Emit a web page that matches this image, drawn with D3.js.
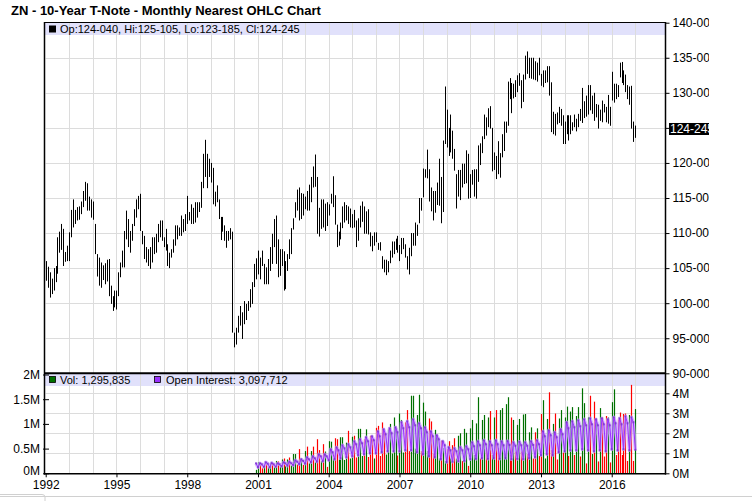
<!DOCTYPE html>
<html>
<head>
<meta charset="utf-8">
<script src="https://cdn.jsdelivr.net/npm/d3@7"></script>
<style>
  body { margin: 0; background: #fff; }
  text { font-family: "Liberation Sans", Arial, sans-serif; }
</style>
</head>
<body>
<div id="chart"></div>
<script>
// STEP 1: data (monthly bars, Jan 1992 .. Jan 2017)
var startYear = 1992;

var priceHigh = [
  106.0,105.2,104.4,103.5,105.0,105.3,109.4,110.2,111.3,110.6,107.3,108.2,
  110.1,113.3,114.8,113.3,113.7,113.8,114.5,116.0,117.3,117.1,115.2,114.8,
  114.5,111.3,107.0,106.5,105.8,105.4,105.7,106.2,106.3,102.5,101.0,101.8,
  101.8,104.4,105.8,107.5,110.3,113.2,112.0,110.3,111.3,113.4,114.8,115.3,
  115.6,110.3,109.6,108.0,107.7,108.0,109.4,109.4,109.9,111.3,111.8,111.8,
  109.4,110.6,108.4,107.2,107.7,109.1,111.1,111.1,110.8,112.5,112.0,112.7,
  115.3,113.0,114.1,113.6,114.4,114.4,114.4,117.3,121.3,123.3,121.3,120.6,
  120.0,119.3,115.9,116.8,114.8,112.3,112.3,111.1,110.3,110.3,110.7,110.2,
  95.8,96.5,98.2,99.6,98.7,100.3,99.9,100.3,102.0,103.0,105.6,106.4,
  107.5,106.5,107.5,105.6,105.1,106.3,108.0,109.9,112.0,112.5,109.1,107.7,
  107.7,107.4,106.0,107.0,109.1,110.7,112.1,114.4,116.2,116.5,115.7,115.6,
  115.2,116.0,116.9,118.0,119.5,121.2,118.0,113.6,114.8,114.8,114.2,114.4,
  114.1,115.6,118.1,115.4,111.2,110.2,111.5,113.8,114.4,114.0,113.8,113.5,
  112.7,113.3,111.8,112.1,113.9,114.5,113.8,113.1,113.4,110.1,109.6,110.1,
  110.1,108.6,108.7,106.7,106.2,106.2,106.0,107.5,108.8,108.8,109.2,109.6,
  108.3,109.3,109.3,108.4,106.7,107.9,110.0,110.0,111.5,111.2,115.0,115.0,
  119.2,119.1,121.9,119.1,116.5,116.0,116.0,117.2,120.6,118.0,123.2,130.9,
  127.6,125.0,126.9,124.6,122.0,118.4,119.0,119.0,119.9,119.9,121.8,121.3,
  118.4,119.0,119.1,119.1,122.5,122.8,123.8,126.9,126.5,127.8,128.1,125.0,
  121.5,121.0,123.1,121.4,124.1,125.9,125.9,131.6,132.1,131.4,131.3,131.8,
  132.5,132.8,131.8,132.6,135.3,135.9,135.0,135.0,135.0,134.5,134.3,135.0,
  132.7,133.2,133.2,133.8,133.8,131.5,127.3,127.0,127.2,128.0,127.7,126.8,
  125.9,126.8,126.8,126.8,125.8,126.9,126.3,127.0,127.7,130.7,128.8,129.6,
  131.1,131.1,129.6,130.0,128.4,128.3,127.6,128.9,128.4,128.0,129.7,128.0,
  133.0,131.3,131.3,131.1,134.3,134.4,133.2,132.6,131.1,130.9,131.0,125.9,
  125.33
];

var priceLow = [
  103.2,102.2,100.8,101.3,101.8,103.0,104.2,107.2,107.6,105.3,105.9,106.0,
  106.0,109.4,110.8,111.3,111.8,111.9,112.7,113.7,114.6,113.2,113.2,112.2,
  111.9,107.0,103.8,102.5,102.2,103.3,102.7,103.1,101.0,99.9,98.9,99.4,
  99.1,101.0,103.7,105.1,105.1,109.1,108.0,107.2,108.9,111.0,112.2,113.4,
  110.3,108.4,106.3,105.8,105.3,104.9,105.8,107.0,107.2,108.7,109.4,108.9,
  108.0,107.5,105.3,105.0,106.5,107.2,108.2,109.1,109.6,109.6,110.1,110.3,
  111.3,111.8,111.3,111.3,111.5,112.2,113.0,113.6,116.4,118.0,116.4,118.0,
  117.2,114.1,113.8,114.4,112.0,109.0,110.2,108.9,107.9,108.9,109.1,95.8,
  93.7,94.1,95.8,96.8,94.9,97.0,97.6,98.9,99.4,99.9,102.3,103.4,
  104.1,103.4,105.3,102.7,102.7,102.7,104.6,105.6,108.0,105.6,103.7,103.9,
  105.3,101.8,102.0,104.6,106.3,107.0,110.5,112.2,113.2,111.8,112.0,112.5,
  113.4,113.2,113.2,114.4,116.5,116.6,109.9,109.5,110.6,110.8,110.3,111.0,
  112.5,114.2,113.7,111.2,108.0,108.2,109.1,110.7,111.5,111.8,111.3,110.8,
  110.7,110.8,108.0,108.9,110.8,111.6,109.9,109.9,109.8,108.1,107.4,108.2,
  108.7,107.6,107.5,104.9,104.4,104.0,104.4,105.7,106.5,107.0,107.6,107.2,
  106.0,107.0,107.7,106.5,104.8,104.1,106.7,108.2,108.2,109.6,111.4,113.2,
  115.1,117.9,117.8,114.5,113.1,111.8,112.9,114.0,113.9,111.4,113.0,122.7,
  122.2,121.0,121.5,120.6,118.9,113.5,115.2,114.7,116.5,117.0,117.1,114.9,
  115.0,116.9,115.2,114.9,117.3,119.7,121.4,123.4,123.9,125.1,124.9,118.8,
  119.0,117.7,118.4,117.9,120.8,121.7,124.3,125.3,129.1,127.1,129.2,129.4,
  130.1,131.0,127.8,128.7,131.9,132.7,132.1,132.0,131.9,131.8,131.6,132.5,
  131.0,130.8,131.4,131.5,129.6,124.4,124.1,123.9,125.5,125.7,125.3,122.7,
  122.7,124.1,123.2,124.1,124.6,125.1,124.5,125.1,126.0,125.7,126.4,126.6,
  126.9,127.5,127.0,126.0,126.5,124.9,126.0,125.8,127.2,125.8,125.6,125.3,
  128.9,128.6,129.1,129.4,132.2,131.4,131.1,130.1,129.1,128.3,124.9,123.0,
  123.58
];

// volume and open interest (millions), from Dec 2000 on
var volStartMonth = 107;

var volume = [
  0.07,
  0.22,0.17,0.10,0.17,0.18,0.12,0.20,0.19,0.12,0.25,0.24,0.14,
  0.28,0.30,0.14,0.28,0.32,0.16,0.39,0.39,0.18,0.49,0.30,0.17,
  0.45,0.54,0.20,0.45,0.54,0.22,0.69,0.47,0.25,0.59,0.44,0.13,
  0.65,0.64,0.30,0.71,0.69,0.28,0.73,0.73,0.27,0.62,0.86,0.30,
  0.74,0.76,0.32,0.90,0.90,0.35,0.69,0.89,0.33,0.76,0.69,0.30,
  0.92,0.96,0.35,1.03,0.86,0.38,0.89,1.00,0.40,1.13,0.91,0.36,
  1.21,1.08,0.42,1.03,1.28,0.45,1.57,1.57,0.50,1.18,1.59,0.45,
  1.43,1.25,0.45,1.11,1.05,0.40,0.88,0.74,0.30,0.66,0.51,0.25,
  0.49,0.65,0.30,0.57,0.71,0.30,0.76,0.81,0.25,0.90,0.82,0.15,
  0.91,1.08,0.37,1.01,1.54,0.30,1.08,1.18,0.51,1.13,1.26,0.37,
  1.13,1.28,0.51,1.28,1.32,0.40,1.40,1.54,0.37,1.13,1.08,0.44,
  0.98,1.10,0.44,1.19,1.20,0.39,0.83,0.93,0.30,0.83,0.91,0.35,
  1.20,1.48,0.30,1.10,1.64,0.47,1.00,1.21,0.28,1.11,1.28,0.42,
  1.13,1.35,0.35,1.25,1.34,0.37,1.16,1.34,0.34,1.72,1.42,0.20,
  1.13,1.57,0.39,1.45,1.11,0.24,1.32,1.13,0.34,1.16,1.13,0.22,
  1.44,1.70,0.37,1.09,1.23,0.37,1.20,1.21,0.25,1.18,1.79,0.25,
  1.30
];

// 1 = up month (green), 0 = down month (red)
var volUp = [
  1,
  1,0,0,1,0,1,1,0,1,1,0,1,
  1,0,1,1,0,1,1,1,0,0,1,0,
  1,0,1,1,0,1,0,0,1,0,1,0,
  1,1,1,0,0,1,1,1,1,1,0,1,
  1,0,0,1,1,1,0,1,0,0,0,1,
  0,0,0,0,0,1,1,1,1,1,1,0,
  1,1,1,0,0,0,1,1,1,1,1,0,
  1,1,1,0,0,0,1,1,1,0,1,1,
  0,0,1,0,0,1,1,1,0,1,1,0,
  1,1,1,1,1,0,1,1,0,1,0,1,
  1,0,0,1,1,1,1,1,0,0,1,0,
  1,1,0,1,1,0,1,1,0,0,1,0,
  0,1,1,1,0,0,1,0,0,1,1,0,
  1,1,0,1,1,0,1,1,0,1,1,0,
  1,0,1,0,1,0,1,0,0,0,1,0,
  1,1,0,0,0,0,0,0,0,1,0,0,
  1
];

var openInt = [
  0.50,
  0.30,0.50,0.45,0.32,0.55,0.48,0.30,0.52,0.45,0.33,0.50,0.45,
  0.35,0.55,0.50,0.38,0.58,0.50,0.40,0.65,0.58,0.45,0.70,0.62,
  0.48,0.80,0.70,0.55,0.85,0.75,0.58,0.95,0.85,0.60,0.95,0.85,
  0.65,1.20,1.05,0.70,1.30,1.15,0.75,1.40,1.25,0.80,1.45,1.30,
  0.85,1.60,1.45,0.90,1.70,1.50,0.95,1.80,1.60,1.00,1.85,1.65,
  1.00,2.10,1.85,1.05,2.20,1.95,1.10,2.25,2.00,1.10,2.30,2.05,
  1.10,2.55,2.25,1.15,2.60,2.30,1.15,2.70,2.40,1.05,2.50,2.25,
  0.95,2.30,2.05,0.85,2.10,1.85,0.80,1.90,1.70,0.70,1.60,1.40,
  0.55,1.30,1.15,0.58,1.25,1.10,0.60,1.30,1.15,0.62,1.35,1.20,
  0.70,1.55,1.35,0.72,1.60,1.40,0.75,1.65,1.45,0.72,1.60,1.40,
  0.75,1.65,1.45,0.72,1.60,1.40,0.75,1.62,1.42,0.70,1.55,1.38,
  0.72,1.58,1.40,0.70,1.55,1.38,0.75,1.60,1.42,0.80,1.65,1.45,
  0.90,2.10,1.85,0.95,2.15,1.90,0.90,2.05,1.80,1.05,2.20,1.95,
  1.10,2.55,2.25,1.15,2.60,2.30,1.15,2.65,2.35,1.20,2.70,2.40,
  1.15,2.75,2.45,1.10,2.70,2.40,1.15,2.75,2.45,1.10,2.70,2.40,
  1.20,2.80,2.50,1.15,2.75,2.45,1.20,2.85,2.50,1.15,2.80,2.55,
  1.17
];

var priceTicks = [90, 95, 100, 105, 110, 115, 120, 125, 130, 135, 140];
var volTicks = [0, 0.5, 1, 1.5, 2];
var oiTicks = [0, 1, 2, 3, 4];
var yearTicks = [1992, 1995, 1998, 2001, 2004, 2007, 2010, 2013, 2016];

var titleText = "ZN - 10-Year T-Note - Monthly Nearest OHLC Chart";
var lastBarText = "Op:124-040, Hi:125-105, Lo:123-185, Cl:124-245";
var lastClose = 124.77;
var lastCloseText = "124-245";
var volLegendText = "Vol: 1,295,835";
var oiLegendText = "Open Interest: 3,097,712";

// STEP 2: svg and layout
var svgWidth = 752;
var svgHeight = 501;
var plotLeft = 45.7, plotRight = 665.7;
var priceTop = 22.7, priceBottom = 373.3;
var volTop = 373.3, volBottom = 473.3;

var svg = d3.select("#chart")
  .append("svg")
  .attr("width", svgWidth)
  .attr("height", svgHeight);

svg.append("defs").append("clipPath")
  .attr("id", "labelClip")
  .append("rect")
  .attr("x", 0).attr("y", 0)
  .attr("width", 709).attr("height", svgHeight);

// STEP 3: scales
var xScale = d3.scaleTime()
  .domain([new Date(1992, 0, 1), new Date(2018, 3, 16)])
  .range([plotLeft, plotRight]);

var yPrice = d3.scaleLinear().domain([90, 140]).range([priceBottom, priceTop]);
var yVol = d3.scaleLinear().domain([0, 2]).range([volBottom, 374.5]);
var yOI = d3.scaleLinear().domain([0, 5]).range([volBottom, volTop]);

function monthDate(i) { return new Date(startYear, i, 1); }
function px(v) { return Math.round(v) + 0.5; }

var bars = priceHigh.map(function(h, i) {
  return { date: monthDate(i), high: h, low: priceLow[i] };
});

var volData = volume.map(function(v, k) {
  return { date: monthDate(volStartMonth + k), vol: v, up: volUp[k], oi: openInt[k] };
});

// STEP 4: title
svg.append("text")
  .attr("x", 11)
  .attr("y", 15)
  .attr("font-size", "13px")
  .attr("font-weight", "bold")
  .text(titleText);

// legend bands
svg.append("rect")
  .attr("x", 45).attr("y", 23)
  .attr("width", 620).attr("height", 12)
  .attr("fill", "#e1e1fb");

svg.append("rect")
  .attr("x", 45).attr("y", 374)
  .attr("width", 620).attr("height", 12)
  .attr("fill", "#e1e1fb");

// STEP 5: gridlines
var gridGroup = svg.append("g")
  .attr("stroke", "#dcdcdc")
  .attr("stroke-width", 1);

var gridYears = d3.range(1993, 2018);
gridGroup.selectAll(".vgrid")
  .data(gridYears)
  .enter()
  .append("line")
  .attr("x1", d => px(xScale(new Date(d, 0, 1))))
  .attr("x2", d => px(xScale(new Date(d, 0, 1))))
  .attr("y1", priceTop)
  .attr("y2", volBottom);

gridGroup.selectAll(".hgrid")
  .data(priceTicks.slice(1, -1))
  .enter()
  .append("line")
  .attr("x1", plotLeft)
  .attr("x2", plotRight)
  .attr("y1", d => px(yPrice(d)))
  .attr("y2", d => px(yPrice(d)));

gridGroup.selectAll(".ogrid")
  .data(oiTicks.slice(1))
  .enter()
  .append("line")
  .attr("x1", plotLeft)
  .attr("x2", plotRight)
  .attr("y1", d => px(yOI(d)))
  .attr("y2", d => px(yOI(d)));

// STEP 6: price bars (high-low)
svg.append("g")
  .selectAll("line")
  .data(bars)
  .enter()
  .append("line")
  .attr("x1", d => px(xScale(d.date)))
  .attr("x2", d => px(xScale(d.date)))
  .attr("y1", d => yPrice(d.high))
  .attr("y2", d => yPrice(d.low))
  .attr("stroke", "black")
  .attr("stroke-width", 1);

// STEP 7: volume bars and open interest
svg.append("g")
  .selectAll("line")
  .data(volData)
  .enter()
  .append("line")
  .attr("x1", d => px(xScale(d.date)))
  .attr("x2", d => px(xScale(d.date)))
  .attr("y1", volBottom)
  .attr("y2", d => yVol(d.vol))
  .attr("stroke", d => d.up ? "#007000" : "#ff0000")
  .attr("stroke-width", 1.2);

var oiLine = d3.line()
  .x(d => xScale(d.date))
  .y(d => yOI(d.oi));

svg.append("path")
  .datum(volData)
  .attr("d", oiLine)
  .attr("fill", "none")
  .attr("stroke", "#c9a3ff")
  .attr("stroke-opacity", 0.75)
  .attr("stroke-width", 3.5)
  .attr("stroke-linejoin", "round");

svg.append("path")
  .datum(volData)
  .attr("d", oiLine)
  .attr("fill", "none")
  .attr("stroke", "#9a30ff")
  .attr("stroke-width", 1)
  .attr("stroke-linejoin", "round");

svg.append("g")
  .selectAll("rect")
  .data(volData)
  .enter()
  .append("rect")
  .attr("x", d => xScale(d.date) - 1)
  .attr("y", d => yOI(d.oi) - 1)
  .attr("width", 2)
  .attr("height", 2)
  .attr("fill", "#7b2fd0")
  .attr("opacity", 0.8);

// STEP 8: frame
var frame = svg.append("g").attr("stroke", "black");
frame.append("line").attr("x1", 44.5).attr("x2", 44.5).attr("y1", 22).attr("y2", 474.5).attr("stroke-width", 1.5);
frame.append("line").attr("x1", 44).attr("x2", 666).attr("y1", 22.5).attr("y2", 22.5);
frame.append("line").attr("x1", 665.5).attr("x2", 665.5).attr("y1", 22).attr("y2", 474.5).attr("stroke-width", 1.5);
frame.append("line").attr("x1", 44).attr("x2", 666).attr("y1", 373.3).attr("y2", 373.3).attr("stroke-width", 2);
frame.append("line").attr("x1", 44).attr("x2", 666).attr("y1", 473.8).attr("y2", 473.8).attr("stroke-width", 1.5);

// STEP 9: axes
var rightLabels = svg.append("g").attr("clip-path", "url(#labelClip)");

var priceAxis = d3.axisRight(yPrice)
  .tickValues(priceTicks)
  .tickSize(4)
  .tickPadding(3)
  .tickFormat(d => d + "-000");

rightLabels.append("g")
  .attr("transform", "translate(665.5,0)")
  .call(priceAxis)
  .call(g => g.select(".domain").remove())
  .call(g => g.selectAll("text").attr("font-size", "12px").attr("font-family", "Liberation Sans, Arial, sans-serif"))
  // the last-close badge covers this label
  .call(g => g.selectAll(".tick").filter(d => Math.abs(yPrice(d) - yPrice(lastClose)) < 10).select("text").remove());

var oiAxis = d3.axisRight(yOI)
  .tickValues(oiTicks)
  .tickSize(4)
  .tickPadding(3)
  .tickFormat(d => d + "M");

rightLabels.append("g")
  .attr("transform", "translate(665.5,0)")
  .call(oiAxis)
  .call(g => g.select(".domain").remove())
  .call(g => g.selectAll("text").attr("font-size", "12px").attr("font-family", "Liberation Sans, Arial, sans-serif"));

// last close badge
var badge = rightLabels.append("g")
  .attr("transform", `translate(0, ${yPrice(lastClose)})`);
badge.append("rect")
  .attr("x", 669).attr("y", -6.5)
  .attr("width", 42).attr("height", 12)
  .attr("fill", "black");
badge.append("text")
  .attr("x", 670).attr("y", 4)
  .attr("fill", "white")
  .attr("font-size", "12px")
  .text(lastCloseText);

var volAxis = d3.axisLeft(yVol)
  .tickValues(volTicks)
  .tickSizeInner(-4)
  .tickSizeOuter(0)
  .tickPadding(5)
  .tickFormat(d => d + "M");

svg.append("g")
  .attr("transform", "translate(45,0)")
  .call(volAxis)
  .call(g => g.select(".domain").remove())
  .call(g => g.selectAll("line").attr("x1", -2).attr("x2", 4))
  .call(g => g.selectAll("text").attr("font-size", "12px").attr("font-family", "Liberation Sans, Arial, sans-serif"))
  .call(g => g.selectAll(".tick").filter(d => d === 0).select("text").attr("dy", "0.1em"));

var xAxis = d3.axisBottom(xScale)
  .tickValues(yearTicks.map(y => new Date(y, 0, 1)))
  .tickSize(4)
  .tickPadding(3)
  .tickFormat(d3.timeFormat("%Y"));

svg.append("g")
  .attr("transform", `translate(0, ${volBottom})`)
  .call(xAxis)
  .call(g => g.select(".domain").remove())
  .call(g => g.selectAll("text").attr("font-size", "12px").attr("font-family", "Liberation Sans, Arial, sans-serif"));

// STEP 10: legends
svg.append("rect")
  .attr("x", 49).attr("y", 25.5)
  .attr("width", 7).attr("height", 7)
  .attr("fill", "black");
svg.append("text")
  .attr("x", 60).attr("y", 33)
  .attr("font-size", "11px")
  .text(lastBarText);

svg.append("rect")
  .attr("x", 49.5).attr("y", 376.5)
  .attr("width", 6).attr("height", 6)
  .attr("fill", "#007000")
  .attr("stroke", "black")
  .attr("stroke-width", 0.8);
svg.append("text")
  .attr("x", 60).attr("y", 384)
  .attr("font-size", "11px")
  .text(volLegendText);

svg.append("rect")
  .attr("x", 154.5).attr("y", 376.5)
  .attr("width", 6).attr("height", 6)
  .attr("fill", "#9a30ff")
  .attr("stroke", "black")
  .attr("stroke-width", 0.8);
svg.append("text")
  .attr("x", 166).attr("y", 384)
  .attr("font-size", "11px")
  .text(oiLegendText);

// bottom strip
svg.append("line")
  .attr("x1", 0).attr("x2", svgWidth)
  .attr("y1", 496.5).attr("y2", 496.5)
  .attr("stroke", "#d0d0d0");
svg.append("path")
  .attr("d", "M0,494.5 H42 Q45,494.5 45,497 V501")
  .attr("fill", "none")
  .attr("stroke", "#d0d0d0");
</script>
</body>
</html>
